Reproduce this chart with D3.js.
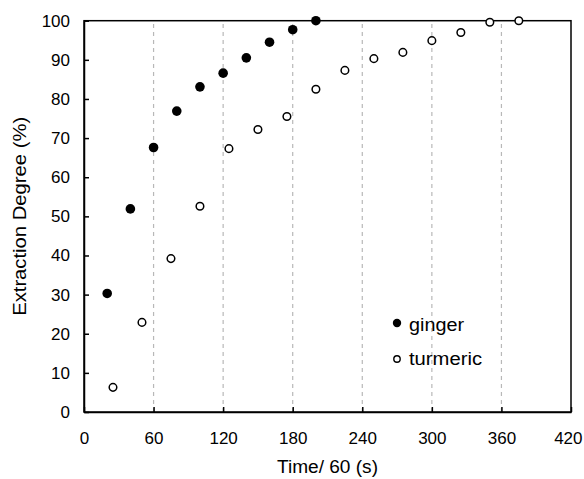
<!DOCTYPE html>
<html>
<head>
<meta charset="utf-8">
<script src="https://cdn.jsdelivr.net/npm/d3@7"></script>
<style>
  body { margin: 0; background: #fff; }
  text { font-family: "Liberation Sans", Arial, sans-serif; fill: #000; }
</style>
</head>
<body>
<div class="canvas"></div>
<script>
// data
const gingerTime = [20, 40, 60, 80, 100, 120, 140, 160, 180, 200];
const gingerDeg = [30.3, 51.9, 67.6, 76.9, 83.1, 86.6, 90.5, 94.5, 97.7, 100];
const turmericTime = [25, 50, 75, 100, 125, 150, 175, 200, 225, 250, 275, 300, 325, 350, 375];
const turmericDeg = [6.3, 22.9, 39.2, 52.6, 67.3, 72.2, 75.5, 82.5, 87.3, 90.3, 91.9, 94.9, 97.0, 99.6, 100];
const xTicks = [0, 60, 120, 180, 240, 300, 360, 420];
const yTicks = [0, 10, 20, 30, 40, 50, 60, 70, 80, 90, 100];
const gridTicks = [60, 120, 180, 240, 300, 360];

const dims = { width: 584, height: 479 };
const margin = { left: 84, top: 20.7, right: 13, bottom: 67 };

const svg = d3.select('.canvas')
            .append('svg')
            .attr('width', dims.width)
            .attr('height', dims.height);

const x = d3.scaleLinear().domain([0, 420]).range([margin.left, dims.width - margin.right]);
const y = d3.scaleLinear().domain([0, 100]).range([dims.height - margin.bottom, margin.top]);

// dashed vertical grid
svg.append('g')
   .selectAll('line')
   .data(gridTicks)
   .enter().append('line')
   .attr('x1', d => x(d)).attr('x2', d => x(d))
   .attr('y1', y(0)).attr('y2', y(100))
   .attr('stroke', '#b8b8b8')
   .attr('stroke-width', 1.2)
   .attr('stroke-dasharray', '4,4');

// axes, ticks pointing inward
const xAxis = d3.axisBottom(x).tickValues(xTicks).tickSizeInner(-5).tickSizeOuter(0).tickPadding(20);
const yAxis = d3.axisLeft(y).tickValues(yTicks).tickSizeInner(-5).tickSizeOuter(0).tickPadding(14);

const gx = svg.append('g').attr('transform', `translate(0, ${y(0)})`).call(xAxis);
const gy = svg.append('g').attr('transform', `translate(${x(0)}, 0)`).call(yAxis);

[gx, gy].forEach(g => {
    g.selectAll('path, line').attr('stroke', '#000').attr('stroke-width', 1.5);
    g.selectAll('text').attr('font-size', 17).attr('font-family', '"Liberation Sans", Arial, sans-serif').attr('fill', '#000');
});
// last label sits at the window edge, pull it in a little
gx.selectAll('.tick text').filter(d => d === 420).attr('text-anchor', 'end').attr('x', 11);

// frame around plot
svg.append('rect')
   .attr('x', x(0)).attr('y', y(100))
   .attr('width', x(420) - x(0)).attr('height', y(0) - y(100))
   .attr('fill', 'none')
   .attr('stroke', '#000')
   .attr('stroke-width', 1.5);

// points
svg.append('g')
   .selectAll('circle')
   .data(turmericTime.map((t, i) => [t, turmericDeg[i]]))
   .enter().append('circle')
   .attr('cx', d => x(d[0])).attr('cy', d => y(d[1]))
   .attr('r', 3.8)
   .attr('fill', '#fff')
   .attr('stroke', '#000')
   .attr('stroke-width', 1.5);

svg.append('g')
   .selectAll('circle')
   .data(gingerTime.map((t, i) => [t, gingerDeg[i]]))
   .enter().append('circle')
   .attr('cx', d => x(d[0])).attr('cy', d => y(d[1]))
   .attr('r', 4.8)
   .attr('fill', '#000');

// axis titles
svg.append('text')
   .attr('x', (x(0) + x(420)) / 2)
   .attr('y', 473)
   .attr('text-anchor', 'middle')
   .attr('font-size', 18)
   .attr('textLength', 101)
   .attr('lengthAdjust', 'spacingAndGlyphs')
   .text('Time/ 60 (s)');

svg.append('text')
   .attr('transform', `translate(26, ${(y(0) + y(100)) / 2}) rotate(-90)`)
   .attr('text-anchor', 'middle')
   .attr('font-size', 18)
   .attr('textLength', 199)
   .attr('lengthAdjust', 'spacingAndGlyphs')
   .text('Extraction Degree (%)');

// legend
const legend = svg.append('g').attr('transform', 'translate(397, 323)');
legend.append('circle').attr('cx', 0).attr('cy', 0).attr('r', 4.2).attr('fill', '#000');
legend.append('circle').attr('cx', 0).attr('cy', 36).attr('r', 3.2)
      .attr('fill', '#fff').attr('stroke', '#000').attr('stroke-width', 1.4);
legend.append('text').attr('x', 12).attr('y', 8).attr('font-size', 18)
      .attr('textLength', 55).attr('lengthAdjust', 'spacingAndGlyphs').text('ginger');
legend.append('text').attr('x', 12).attr('y', 42).attr('font-size', 18)
      .attr('textLength', 73).attr('lengthAdjust', 'spacingAndGlyphs').text('turmeric');
</script>
</body>
</html>
